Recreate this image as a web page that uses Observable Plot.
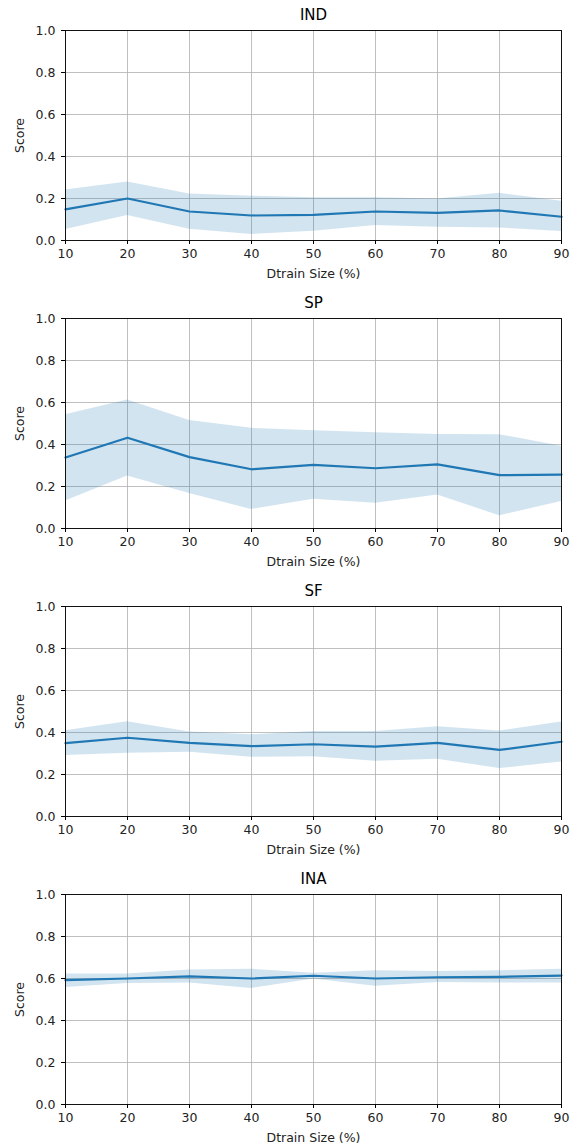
<!DOCTYPE html>
<html><head><meta charset="utf-8">
<script src="https://cdn.jsdelivr.net/npm/d3@7"></script>
<script src="https://cdn.jsdelivr.net/npm/@observablehq/plot@0.6"></script>
<style>body{margin:0;background:#fff} svg{display:block}</style>
</head><body><div id="chart"></div>
<script>
const sizes = [10, 20, 30, 40, 50, 60, 70, 80, 90];
const yTicks = [0, 0.2, 0.4, 0.6, 0.8, 1.0];
const panelTitles = ["IND", "SP", "SF", "INA"];

const indMean = [0.148, 0.200, 0.138, 0.119, 0.122, 0.138, 0.132, 0.143, 0.113];
const indLow  = [0.052, 0.119, 0.054, 0.029, 0.044, 0.071, 0.063, 0.060, 0.043];
const indHigh = [0.240, 0.278, 0.222, 0.211, 0.203, 0.203, 0.198, 0.225, 0.187];

const spMean = [0.338, 0.432, 0.340, 0.282, 0.303, 0.287, 0.305, 0.254, 0.257];
const spLow  = [0.131, 0.250, 0.167, 0.091, 0.139, 0.120, 0.159, 0.061, 0.128];
const spHigh = [0.542, 0.612, 0.514, 0.477, 0.466, 0.456, 0.448, 0.447, 0.392];

const sfMean = [0.349, 0.375, 0.351, 0.335, 0.344, 0.333, 0.351, 0.317, 0.356];
const sfLow  = [0.290, 0.301, 0.306, 0.282, 0.284, 0.263, 0.273, 0.228, 0.260];
const sfHigh = [0.408, 0.451, 0.402, 0.389, 0.405, 0.405, 0.427, 0.407, 0.450];

const inaMean = [0.592, 0.600, 0.610, 0.600, 0.613, 0.600, 0.606, 0.608, 0.614];
const inaLow  = [0.557, 0.576, 0.579, 0.552, 0.598, 0.563, 0.581, 0.579, 0.579];
const inaHigh = [0.622, 0.621, 0.640, 0.644, 0.625, 0.637, 0.633, 0.637, 0.644];

const series = [
  [indMean, indLow, indHigh],
  [spMean, spLow, spHigh],
  [sfMean, sfLow, sfHigh],
  [inaMean, inaLow, inaHigh]
];

const blue = "#1f77b4";
const container = document.getElementById("chart");

panelTitles.forEach((title, p) => {
  const [m, lo, hi] = series[p];
  const data = sizes.map((s, i) => ({size: s, mean: m[i], lo: lo[i], hi: hi[i]}));
  const chart = Plot.plot({
    width: 584,
    height: 288,
    marginLeft: 65,
    marginRight: 23,
    marginTop: 30,
    marginBottom: 48,
    style: {fontFamily: "DejaVu Sans", fontSize: "12.5px", color: "#222", background: "#fff", overflow: "visible"},
    x: {type: "linear", domain: [10, 90]},
    y: {type: "linear", domain: [0, 1]},
    marks: [
      Plot.gridX(sizes, {stroke: "#b0b0b0", strokeOpacity: 1, strokeWidth: 0.8}),
      Plot.gridY(yTicks, {stroke: "#b0b0b0", strokeOpacity: 1, strokeWidth: 0.8}),
      Plot.areaY(data, {x: "size", y1: "lo", y2: "hi", fill: blue, fillOpacity: 0.2}),
      Plot.lineY(data, {x: "size", y: "mean", stroke: blue, strokeWidth: 2.2}),
      Plot.frame({stroke: "#000", strokeWidth: 0.9}),
      Plot.axisX(sizes, {tickSize: 4, tickPadding: 5, tickFormat: d => String(d), label: "Dtrain Size (%)", labelAnchor: "center", labelOffset: 37, labelArrow: "none", stroke: "#000"}),
      Plot.axisY(yTicks, {tickSize: 4, tickPadding: 6, tickFormat: d => d.toFixed(1), label: "Score", labelAnchor: "center", labelOffset: 50, labelArrow: "none", stroke: "#000"}),
      Plot.text([title], {frameAnchor: "top", dy: -21, fontSize: 15, fill: "#000"})
    ]
  });
  container.appendChild(chart);
});
</script>
</body></html>
